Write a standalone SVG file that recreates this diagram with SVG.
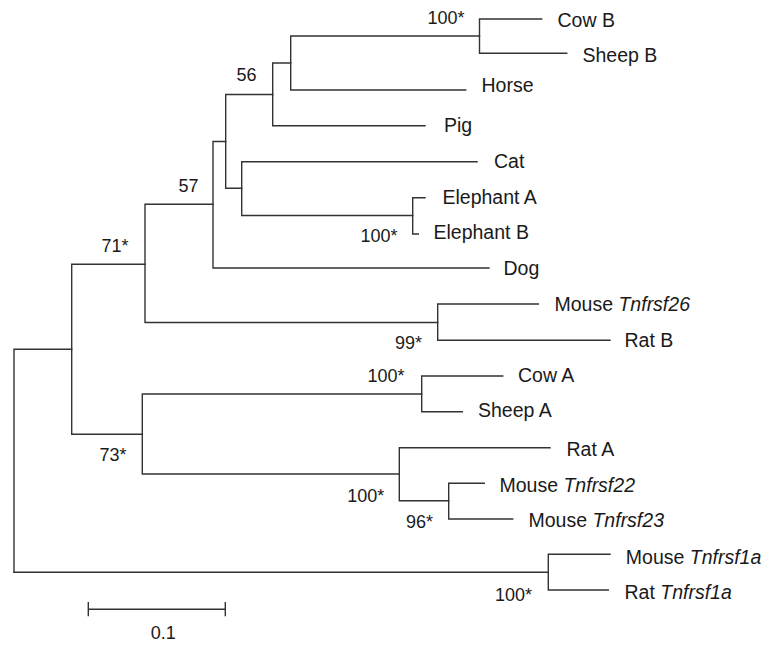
<svg xmlns="http://www.w3.org/2000/svg" width="775" height="651" viewBox="0 0 775 651">
<style>
.br{fill:none;stroke:#333;stroke-width:1.4;stroke-linecap:square}
.lf{font-family:"Liberation Sans",Arial,sans-serif;font-size:19.5px;fill:#1a1a1a}
.bs{font-family:"Liberation Sans",Arial,sans-serif;font-size:18px;fill:#1a1a1a}
.it{font-style:italic}
</style>
<rect width="775" height="651" fill="#fff"/>
<g id="connectors">
<path class="br" d="M14,349.3V572.3M14,349.3H71.7"/>
<path class="br" d="M71.7,264.3V434.3M71.7,264.3H145M71.7,434.3H142.3"/>
<path class="br" d="M145,204.3V322.5M145,204.3H213M145,322.5H437.7"/>
<path class="br" d="M213,141.5V268M213,141.5H225.7M213,268H489"/>
<path class="br" d="M225.7,94.5V188.3M225.7,94.5H272.7M225.7,188.3H241.7"/>
<path class="br" d="M272.7,63V125.7M272.7,63H290.7M272.7,125.7H425"/>
<path class="br" d="M290.7,36V90M290.7,36H479.5M290.7,90H465.7"/>
<path class="br" d="M479.5,19V53.3M479.5,19H541.7M479.5,53.3H566.7"/>
<path class="br" d="M241.7,161.7V215.5M241.7,161.7H477M241.7,215.5H412.7"/>
<path class="br" d="M412.7,197.7V234M412.7,197.7H425M412.7,234H418.3"/>
<path class="br" d="M437.7,304V340.3M437.7,304H538.3M437.7,340.3H610"/>
<path class="br" d="M142.3,394V474M142.3,394H421.7M142.3,474H399.3"/>
<path class="br" d="M421.7,376V411.7M421.7,376H502.7M421.7,411.7H462.3"/>
<path class="br" d="M399.3,447.7V500.7M399.3,447.7H550M399.3,500.7H448.7"/>
<path class="br" d="M448.7,483.3V519M448.7,483.3H484.3M448.7,519H512.7"/>
<path class="br" d="M14,572.3H548.3M548.3,554.3V590M548.3,554.3H610M548.3,590H608.3"/>
</g>
<g id="leaf-cowB"><text class="lf" x="557.5" y="27.3">Cow B</text></g>
<g id="leaf-sheepB"><text class="lf" x="582.5" y="61.7">Sheep B</text></g>
<g id="leaf-horse"><text class="lf" x="481.5" y="91.7">Horse</text></g>
<g id="leaf-pig"><text class="lf" x="444" y="131.7">Pig</text></g>
<g id="leaf-cat"><text class="lf" x="494" y="167.7">Cat</text></g>
<g id="leaf-elephantA"><text class="lf" x="442.5" y="204">Elephant A</text></g>
<g id="leaf-elephantB"><text class="lf" x="433.5" y="239">Elephant B</text></g>
<g id="leaf-dog"><text class="lf" x="503.5" y="275">Dog</text></g>
<g id="leaf-mouse26"><text class="lf" x="554.5" y="310.7">Mouse <tspan class="it">Tnfrsf26</tspan></text></g>
<g id="leaf-ratB"><text class="lf" x="624.5" y="346.7">Rat B</text></g>
<g id="leaf-cowA"><text class="lf" x="518" y="381.7">Cow A</text></g>
<g id="leaf-sheepA"><text class="lf" x="478" y="416.7">Sheep A</text></g>
<g id="leaf-ratA"><text class="lf" x="566.5" y="455.7">Rat A</text></g>
<g id="leaf-mouse22"><text class="lf" x="499.5" y="491.7">Mouse <tspan class="it">Tnfrsf22</tspan></text></g>
<g id="leaf-mouse23"><text class="lf" x="528.5" y="526.7">Mouse <tspan class="it">Tnfrsf23</tspan></text></g>
<g id="leaf-mouse1a"><text class="lf" x="625.8" y="564">Mouse <tspan class="it">Tnfrsf1a</tspan></text></g>
<g id="leaf-rat1a"><text class="lf" x="624.5" y="599">Rat <tspan class="it">Tnfrsf1a</tspan></text></g>
<g id="node-cowsheepB"><text class="bs" x="427.5" y="24">100*</text></g>
<g id="node-56"><text class="bs" x="236.5" y="81">56</text></g>
<g id="node-57"><text class="bs" x="178.5" y="192.3">57</text></g>
<g id="node-elephant"><text class="bs" x="360.5" y="242.3">100*</text></g>
<g id="node-71"><text class="bs" x="101.5" y="252.3">71*</text></g>
<g id="node-99"><text class="bs" x="395" y="349">99*</text></g>
<g id="node-cowsheepA"><text class="bs" x="367.5" y="381.7">100*</text></g>
<g id="node-73"><text class="bs" x="99.5" y="460.7">73*</text></g>
<g id="node-ratA"><text class="bs" x="347.3" y="501.7">100*</text></g>
<g id="node-96"><text class="bs" x="406" y="528.3">96*</text></g>
<g id="node-tnfrsf1a"><text class="bs" x="495" y="600.7">100*</text></g>
<g id="scale-bar">
<path class="br" d="M88.3,609.3H225.3M88.3,602.7V615.5M225.3,602.7V615.5"/>
<text class="bs" x="163.3" y="639.3" text-anchor="middle">0.1</text>
</g>
</svg>
